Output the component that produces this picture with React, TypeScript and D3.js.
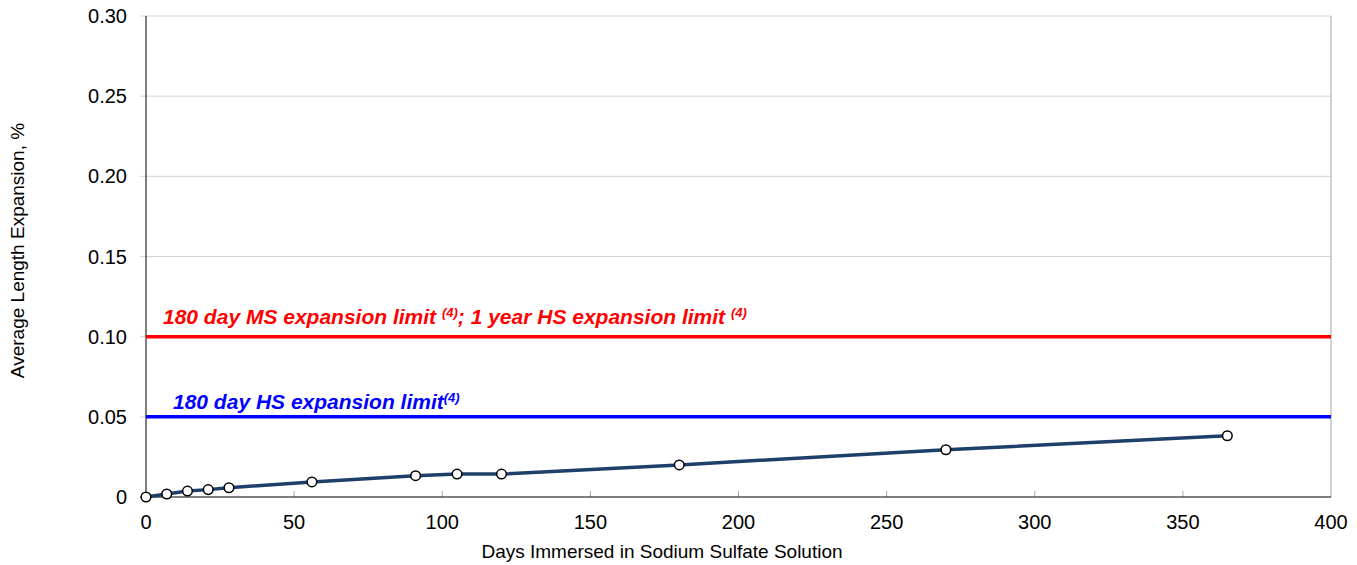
import React, { useEffect, useRef } from 'react';
import * as d3 from 'd3';

const days = [0, 7, 14, 21, 28, 56, 91, 105, 120, 180, 270, 365];
const expansion = [0, 0.0019, 0.0037, 0.0046, 0.0058, 0.0094, 0.0133, 0.0143, 0.0143, 0.020, 0.0295, 0.0382];
const xTicks = [0, 50, 100, 150, 200, 250, 300, 350, 400];
const yTicks = [0, 0.05, 0.1, 0.15, 0.2, 0.25, 0.3];
const limits = [
  { value: 0.1, color: '#ff0000', label: '180 day MS expansion limit ', sup: '(4)', label2: '; 1 year HS expansion limit ', sup2: '(4)' },
  { value: 0.05, color: '#0000ff', label: '180 day HS expansion limit', sup: '(4)', label2: '', sup2: '' },
];

const App = () => {
  const ref = useRef<SVGSVGElement>(null);

  useEffect(() => {
    const svg = d3.select(ref.current);
    svg.selectAll('*').remove();
    const left = 146, right = 1331, top = 16, bottom = 497;
    const x = d3.scaleLinear().domain([0, 400]).range([left, right]);
    const y = d3.scaleLinear().domain([0, 0.3]).range([bottom, top]);
    const font = 'Arial, "Liberation Sans", sans-serif';

    // gridlines
    svg.append('g').selectAll('line').data(yTicks.filter(d => d > 0)).enter()
      .append('line')
      .attr('x1', left - 6).attr('x2', right)
      .attr('y1', d => y(d)).attr('y2', d => y(d))
      .attr('stroke', '#d4d4d4').attr('stroke-width', 1);
    svg.append('line').attr('x1', right).attr('x2', right).attr('y1', top).attr('y2', bottom)
      .attr('stroke', '#a6a6a6');

    // x ticks (inside)
    svg.append('g').selectAll('line').data(xTicks.slice(1, -1)).enter()
      .append('line')
      .attr('x1', d => x(d)).attr('x2', d => x(d))
      .attr('y1', bottom).attr('y2', bottom - 6)
      .attr('stroke', '#a6a6a6');

    // axes
    svg.append('line').attr('x1', left).attr('x2', left).attr('y1', top).attr('y2', bottom)
      .attr('stroke', '#000').attr('stroke-width', 1);
    svg.append('line').attr('x1', left - 6).attr('x2', right).attr('y1', bottom).attr('y2', bottom)
      .attr('stroke', '#000').attr('stroke-width', 1);

    // tick labels
    svg.append('g').selectAll('text').data(yTicks).enter()
      .append('text')
      .attr('x', 127).attr('y', d => y(d) + 7)
      .attr('text-anchor', 'end')
      .attr('font-family', font).attr('font-size', 20)
      .text(d => d === 0 ? '0' : d3.format('.2f')(d));
    svg.append('g').selectAll('text').data(xTicks).enter()
      .append('text')
      .attr('x', d => x(d)).attr('y', 529)
      .attr('text-anchor', 'middle')
      .attr('font-family', font).attr('font-size', 20)
      .text(d => d);

    // axis titles
    svg.append('text')
      .attr('transform', `translate(24,${(top + bottom) / 2 - 6}) rotate(-90)`)
      .attr('text-anchor', 'middle')
      .attr('font-family', font).attr('font-size', 19)
      .text('Average Length Expansion, %');
    svg.append('text')
      .attr('x', 662).attr('y', 558)
      .attr('text-anchor', 'middle')
      .attr('font-family', font).attr('font-size', 19)
      .text('Days Immersed in Sodium Sulfate Solution');

    // limit lines
    limits.forEach((l, i) => {
      svg.append('line')
        .attr('x1', left).attr('x2', right)
        .attr('y1', y(l.value)).attr('y2', y(l.value))
        .attr('stroke', l.color).attr('stroke-width', 3.5);
      const t = svg.append('text')
        .attr('x', i === 0 ? 163 : 173).attr('y', y(l.value) - (i === 0 ? 13 : 8))
        .attr('fill', l.color)
        .attr('font-family', font).attr('font-size', 21)
        .attr('font-weight', 'bold').attr('font-style', 'italic');
      t.append('tspan').text(l.label);
      t.append('tspan').attr('font-size', 13).attr('dy', -7).text(l.sup);
      if (l.label2) {
        t.append('tspan').attr('dy', 7).text(l.label2);
        t.append('tspan').attr('font-size', 13).attr('dy', -7).text(l.sup2);
      }
    });

    // data line
    const line = d3.line<number>().x((d, i) => x(days[i])).y(d => y(d));
    svg.append('path').datum(expansion)
      .attr('d', line)
      .attr('fill', 'none').attr('stroke', '#1f3f6b').attr('stroke-width', 3.5);
    svg.append('g').selectAll('circle').data(expansion).enter()
      .append('circle')
      .attr('cx', (d, i) => x(days[i])).attr('cy', d => y(d))
      .attr('r', 4.8)
      .attr('fill', '#fff').attr('stroke', '#000').attr('stroke-width', 1.5);
  }, []);

  return (
    <svg ref={ref} width={1357} height={565}
      style={{ position: 'absolute', left: 0, top: 0, background: '#fff' }} />
  );
};

export default App;
